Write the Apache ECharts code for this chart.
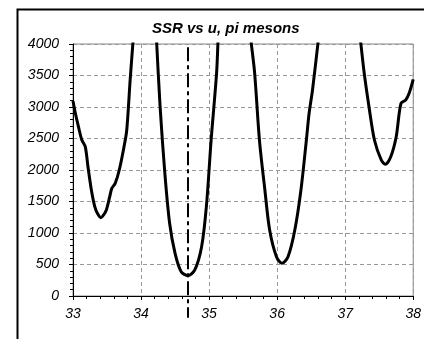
<!DOCTYPE html>
<html>
<head>
<meta charset="utf-8">
<script src="https://cdn.jsdelivr.net/npm/echarts@6/dist/echarts.min.js"></script>
<style>html,body{margin:0;padding:0;background:#fff}#c{width:424px;height:339px}</style>
</head>
<body>
<div id="c"></div>
<script>
// Chart data
const titleText = "SSR vs u, pi mesons";
const uValues = [33.00,33.03,33.08,33.13,33.18,33.22,33.27,33.32,33.36,33.41,33.45,33.49,33.54,33.57,33.62,33.68,33.75,33.79,33.84,33.88,33.92,
  34.19,34.23,34.28,34.35,34.42,34.50,34.59,34.69,34.79,34.89,34.96,35.03,35.11,35.13,35.16,
  35.59,35.62,35.67,35.74,35.82,35.89,35.99,36.07,36.16,36.26,36.35,36.43,36.47,36.52,36.60,36.63,
  37.20,37.23,37.28,37.35,37.43,37.53,37.59,37.67,37.75,37.82,37.89,37.94,38.00];
const ssrValues = [3095,2925,2687,2476,2370,2052,1683,1418,1310,1243,1286,1365,1577,1709,1788,2000,2370,2635,3429,4010,4600,
  4810,4010,3005,1947,1154,678,386,323,413,783,1418,2476,3535,4010,4700,
  4300,4010,3535,2476,1683,1048,624,519,624,1048,1683,2476,2900,3270,4010,4290,
  4300,4010,3535,3005,2476,2159,2090,2211,2529,3058,3111,3217,3439];
const markerU = [34.69, 34.69];
const markerSSR = [3950, -345];
const xTicks = [33, 34, 35, 36, 37, 38];
const yTicks = [0, 500, 1000, 1500, 2000, 2500, 3000, 3500, 4000];

const curve = uValues.map((u, i) => [u, ssrValues[i]]);
const marker = markerU.map((u, i) => [u, markerSSR[i]]);

const chart = echarts.init(document.getElementById('c'), null, {renderer: 'canvas'});
const font = 'Liberation Sans, Arial, sans-serif';
chart.setOption({
  animation: false,
  backgroundColor: '#fff',
  title: {
    text: titleText,
    left: 147, top: 16,
    textStyle: {fontFamily: font, fontSize: 15, fontWeight: 'bold', fontStyle: 'italic', color: '#000'}
  },
  graphic: [{
    type: 'rect', left: 15, top: 7, silent: true,
    shape: {width: 430, height: 350},
    style: {fill: 'none', stroke: '#000', lineWidth: 2}
  }],
  grid: {left: 73, top: 44, right: 10, bottom: 43, show: true, borderColor: '#888', borderWidth: 1, backgroundColor: 'transparent'},
  xAxis: {
    type: 'value', min: xTicks[0], max: xTicks[xTicks.length - 1], interval: 1,
    axisLine: {show: true, onZero: false, lineStyle: {color: '#000', width: 1}},
    axisTick: {show: true, inside: false, length: 4, lineStyle: {color: '#000'}},
    minorTick: {show: true, splitNumber: 5, length: 3, lineStyle: {color: '#000'}},
    splitLine: {show: true, lineStyle: {color: '#999', type: [4, 3], width: 1}},
    axisLabel: {margin: 11, fontFamily: font, fontSize: 14, fontStyle: 'italic', color: '#000', formatter: v => String(v)}
  },
  yAxis: {
    type: 'value', min: yTicks[0], max: yTicks[yTicks.length - 1], interval: 500,
    axisLine: {show: true, lineStyle: {color: '#000', width: 1}},
    axisTick: {show: true, inside: false, length: 4, lineStyle: {color: '#000'}},
    minorTick: {show: true, splitNumber: 5, length: 3, lineStyle: {color: '#000'}},
    splitLine: {show: true, lineStyle: {color: '#999', type: [4, 3], width: 1}},
    axisLabel: {margin: 14, fontFamily: font, fontSize: 14, fontStyle: 'italic', color: '#000', formatter: v => String(v)}
  },
  series: [
    {
      type: 'line', data: marker, clip: false, symbol: 'none', silent: true,
      lineStyle: {color: '#000', width: 2, type: [14, 4, 4, 4]}, z: 2
    },
    {
      type: 'line', data: curve, clip: true, symbol: 'none', smooth: 0.3, silent: true,
      lineStyle: {color: '#000', width: 3}, z: 3
    }
  ]
});
</script>
</body>
</html>
